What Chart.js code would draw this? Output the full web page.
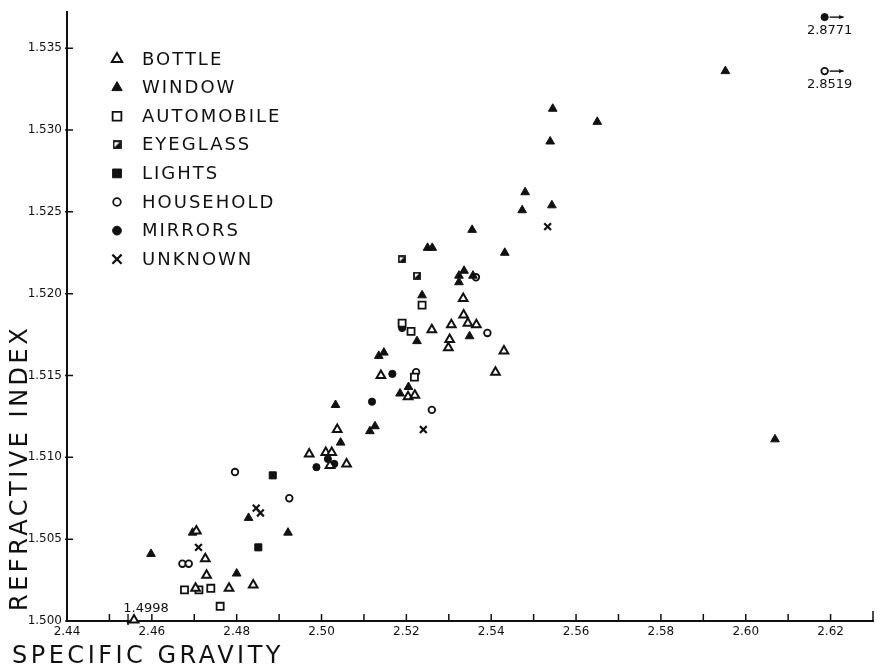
<!DOCTYPE html>
<html>
<head>
<meta charset="utf-8">
<script src="https://cdn.jsdelivr.net/npm/chart.js@4.4.0/dist/chart.umd.min.js"></script>
<style>
  html, body { margin: 0; padding: 0; background: #fff; overflow: hidden; }
  canvas { display: block; }
</style>
</head>
<body>
<canvas id="glassChart" width="880" height="666"></canvas>
<script>
// == specific gravity (x) vs refractive index (y) == //
const bottleSG = [2.5334, 2.5335, 2.5260, 2.5306, 2.5345, 2.5365, 2.5302, 2.5299, 2.5430, 2.5410, 2.5140, 2.5204, 2.5220,
    2.5037, 2.4971, 2.5010, 2.5024, 2.5020, 2.5059, 2.4705, 2.4726, 2.4729, 2.4703, 2.4782, 2.4839, 2.4558];
const bottleRI = [1.5197, 1.5187, 1.5178, 1.5181, 1.5182, 1.5181, 1.5172, 1.5167, 1.5165, 1.5152, 1.5150, 1.5137, 1.5138,
    1.5117, 1.5102, 1.5103, 1.5103, 1.5095, 1.5096, 1.5055, 1.5038, 1.5028, 1.5020, 1.5020, 1.5022, 1.4998];

const windowSG = [2.5250, 2.5261, 2.5355, 2.5432, 2.5336, 2.5324, 2.5324, 2.5357, 2.5237, 2.5225, 2.5349, 2.5135, 2.5147,
    2.5205, 2.5185, 2.5033, 2.5126, 2.5114, 2.5045, 2.5545, 2.5650, 2.5539, 2.5480, 2.5473, 2.5543, 2.5952, 2.6069,
    2.4828, 2.4921, 2.4696, 2.4598, 2.4800];
const windowRI = [1.5228, 1.5228, 1.5239, 1.5225, 1.5214, 1.5211, 1.5207, 1.5211, 1.5199, 1.5171, 1.5174, 1.5162, 1.5164,
    1.5143, 1.5139, 1.5132, 1.5119, 1.5116, 1.5109, 1.5313, 1.5305, 1.5293, 1.5262, 1.5251, 1.5254, 1.5336, 1.5111,
    1.5063, 1.5054, 1.5054, 1.5041, 1.5029];

const autoSG = [2.5237, 2.5190, 2.5211, 2.5219, 2.4677, 2.4711, 2.4739, 2.4761];
const autoRI = [1.5193, 1.5182, 1.5177, 1.5149, 1.5019, 1.5019, 1.5020, 1.5009];

const eyeglassSG = [2.5189, 2.5225];
const eyeglassRI = [1.5221, 1.5211];

const lightsSG = [2.4885, 2.4851];
const lightsRI = [1.5089, 1.5045];

const householdSG = [2.5364, 2.5391, 2.5223, 2.5260, 2.4796, 2.4924, 2.4672, 2.4687, 2.8519];
const householdRI = [1.5210, 1.5176, 1.5152, 1.5129, 1.5091, 1.5075, 1.5035, 1.5035, 1.5336];

const mirrorsSG = [2.5190, 2.5167, 2.5119, 2.5015, 2.4988, 2.5030, 2.8771];
const mirrorsRI = [1.5179, 1.5151, 1.5134, 1.5099, 1.5094, 1.5096, 1.5369];

const unknownSG = [2.5533, 2.5240, 2.4846, 2.4856, 2.4710];
const unknownRI = [1.5241, 1.5117, 1.5069, 1.5066, 1.5045];

const sgTicks = [2.44, 2.46, 2.48, 2.50, 2.52, 2.54, 2.56, 2.58, 2.60, 2.62];
const riTicks = [1.500, 1.505, 1.510, 1.515, 1.520, 1.525, 1.530, 1.535];

const INK = "#111";
const FONT = "'DejaVu Sans', sans-serif";
const SG_MIN = 2.44, SG_MAX = 2.63, RI_MIN = 1.500, RI_MAX = 1.5372;
// off-scale points are pinned to the frame and marked with an arrow
const SG_EDGE = 2.6186, RI_FLOOR = 1.50006;

function eyeglassIcon(size) {
    const c = document.createElement("canvas");
    c.width = c.height = size;
    const g = c.getContext("2d");
    g.strokeStyle = INK;
    g.fillStyle = INK;
    g.lineWidth = 1.8;
    g.strokeRect(1, 1, size - 2, size - 2);
    g.beginPath();
    g.moveTo(size - 1, 1);
    g.lineTo(size - 1, size - 1);
    g.lineTo(1, size - 1);
    g.closePath();
    g.fill();
    return c;
}

function pts(sg, ri) {
    return sg.map((s, i) => ({ x: Math.min(s, SG_EDGE), y: Math.max(ri[i], RI_FLOOR), sg: s, ri: ri[i] }));
}

const series = [
    { label: "BOTTLE", sg: bottleSG, ri: bottleRI, style: "triangle", r: 5, fill: "#fff", bw: 2, lr: 6 },
    { label: "WINDOW", sg: windowSG, ri: windowRI, style: "triangle", r: 5, fill: INK, bw: 1, lr: 6 },
    { label: "AUTOMOBILE", sg: autoSG, ri: autoRI, style: "rect", r: 5, fill: "#fff", bw: 1.8, lr: 6.2 },
    { label: "EYEGLASS", sg: eyeglassSG, ri: eyeglassRI, style: eyeglassIcon(8), legendIcon: eyeglassIcon(9), r: 4, fill: INK, bw: 1, lr: 5 },
    { label: "LIGHTS", sg: lightsSG, ri: lightsRI, style: "rect", r: 5, fill: INK, bw: 1, lr: 6.2 },
    { label: "HOUSEHOLD", sg: householdSG, ri: householdRI, style: "circle", r: 3.3, fill: "#fff", bw: 1.8, lr: 3.8 },
    { label: "MIRRORS", sg: mirrorsSG, ri: mirrorsRI, style: "circle", r: 3.6, fill: INK, bw: 1, lr: 4.4 },
    { label: "UNKNOWN", sg: unknownSG, ri: unknownRI, style: "crossRot", r: 4.8, fill: INK, bw: 2.2, lr: 6.5 },
];

// draw one legend marker by hand (same shapes as the chart)
function drawMarker(ctx, s, x, y) {
    const r = s.lr;
    ctx.save();
    ctx.fillStyle = s.fill;
    ctx.strokeStyle = INK;
    ctx.lineWidth = s.bw;
    ctx.beginPath();
    if (s.legendIcon) {
        ctx.drawImage(s.legendIcon, x - s.legendIcon.width / 2, y - s.legendIcon.height / 2);
    } else if (s.style === "triangle") {
        ctx.moveTo(x, y - r);
        ctx.lineTo(x + r * 0.866, y + r * 0.5);
        ctx.lineTo(x - r * 0.866, y + r * 0.5);
        ctx.closePath();
        ctx.fill(); ctx.stroke();
    } else if (s.style === "rect") {
        const h = r * Math.SQRT1_2;
        ctx.rect(x - h, y - h, 2 * h, 2 * h);
        ctx.fill(); ctx.stroke();
    } else if (s.style === "circle") {
        ctx.arc(x, y, r, 0, Math.PI * 2);
        ctx.fill(); ctx.stroke();
    } else {
        const h = r * Math.SQRT1_2;
        ctx.moveTo(x - h, y - h); ctx.lineTo(x + h, y + h);
        ctx.moveTo(x + h, y - h); ctx.lineTo(x - h, y + h);
        ctx.stroke();
    }
    ctx.restore();
}

function arrow(ctx, x1, y1, x2, y2) {
    const a = Math.atan2(y2 - y1, x2 - x1);
    ctx.beginPath();
    ctx.moveTo(x1, y1);
    ctx.lineTo(x2, y2);
    ctx.stroke();
    ctx.beginPath();
    ctx.moveTo(x2, y2);
    ctx.lineTo(x2 - 5 * Math.cos(a - 0.45), y2 - 5 * Math.sin(a - 0.45));
    ctx.lineTo(x2 - 5 * Math.cos(a + 0.45), y2 - 5 * Math.sin(a + 0.45));
    ctx.closePath();
    ctx.fill();
}

const extrasPlugin = {
    id: "extras",
    afterDraw(chart) {
        const { ctx, chartArea: area } = chart;
        const x = chart.scales.x, y = chart.scales.y;
        ctx.save();
        ctx.strokeStyle = INK;
        ctx.fillStyle = INK;
        ctx.lineWidth = 1.5;

        // inward tick marks
        ctx.beginPath();
        for (let i = 1; i <= 19; i++) {
            const px = x.getPixelForValue(SG_MIN + i * 0.01);
            ctx.moveTo(px, area.bottom);
            ctx.lineTo(px, area.bottom - (i === 19 ? 10 : 7));
        }
        riTicks.forEach(v => {
            const py = y.getPixelForValue(v);
            ctx.moveTo(area.left - 2, py);
            ctx.lineTo(area.left + 6, py);
        });
        ctx.stroke();

        // legend
        ctx.font = "18px " + FONT;
        ctx.letterSpacing = "2px";
        ctx.textBaseline = "middle";
        ctx.textAlign = "left";
        series.forEach((s, i) => {
            const ly = 59 + i * 28.6;
            drawMarker(ctx, s, 117, ly);
            ctx.fillText(s.label, 142, ly + 1);
        });

        // off-scale notes
        ctx.font = "13px " + FONT;
        ctx.letterSpacing = "0px";
        ctx.textAlign = "center";
        ctx.lineWidth = 1.4;
        chart.data.datasets.forEach((ds, di) => {
            const meta = chart.getDatasetMeta(di);
            ds.data.forEach((p, j) => {
                const el = meta.data[j];
                if (p.sg > SG_MAX) {
                    arrow(ctx, el.x + 5, el.y, el.x + 19, el.y);
                    ctx.fillText(p.sg.toFixed(4), el.x + 5, el.y + 14);
                }
                if (p.ri < RI_MIN) {
                    arrow(ctx, el.x - 6, el.y - 6, el.x - 6, el.y + 5);
                    ctx.fillText(p.ri.toFixed(4), el.x + 12, el.y - 11);
                }
            });
        });

        // axis titles
        ctx.font = "24px " + FONT;
        ctx.letterSpacing = "3.5px";
        ctx.textAlign = "left";
        ctx.textBaseline = "alphabetic";
        ctx.fillText("SPECIFIC GRAVITY", 12, 663);
        ctx.translate(27, 611);
        ctx.rotate(-Math.PI / 2);
        ctx.fillText("REFRACTIVE INDEX", 0, 0);
        ctx.restore();
    }
};

document.addEventListener("DOMContentLoaded", () => {
    const ctx = document.getElementById("glassChart").getContext("2d");

    const datasets = series.map(s => ({
        label: s.label,
        data: pts(s.sg, s.ri),
        pointStyle: s.style,
        pointRadius: s.r,
        pointBackgroundColor: s.fill,
        pointBorderColor: INK,
        pointBorderWidth: s.bw,
        showLine: false,
        clip: false,
    }));

    new Chart(ctx, {
        type: "scatter",
        data: { datasets: datasets },
        options: {
            responsive: false,
            animation: false,
            events: [],
            layout: { padding: { top: 4, right: 1, left: 0, bottom: 0 } },
            plugins: {
                legend: { display: false },
                tooltip: { enabled: false },
            },
            scales: {
                x: {
                    type: "linear",
                    min: SG_MIN,
                    max: SG_MAX,
                    grid: { display: false, drawTicks: false, tickLength: 0 },
                    border: { display: true, color: INK, width: 2 },
                    ticks: {
                        color: INK,
                        font: { family: FONT, size: 12 },
                        padding: 4,
                        maxRotation: 0,
                        autoSkip: false,
                        callback: v => v.toFixed(2),
                    },
                    afterBuildTicks: s => { s.ticks = sgTicks.map(v => ({ value: v })); },
                    afterFit: s => { s.height = 45; },
                },
                y: {
                    type: "linear",
                    min: RI_MIN,
                    max: RI_MAX,
                    grid: { display: false, drawTicks: false, tickLength: 0 },
                    border: { display: true, color: INK, width: 2 },
                    ticks: {
                        color: INK,
                        font: { family: FONT, size: 12 },
                        padding: 5,
                        autoSkip: false,
                        callback: v => v.toFixed(3),
                    },
                    afterBuildTicks: s => { s.ticks = riTicks.map(v => ({ value: v })); },
                    afterFit: s => { s.width = 67; },
                },
            },
        },
        plugins: [extrasPlugin],
    });
});
</script>
</body>
</html>
